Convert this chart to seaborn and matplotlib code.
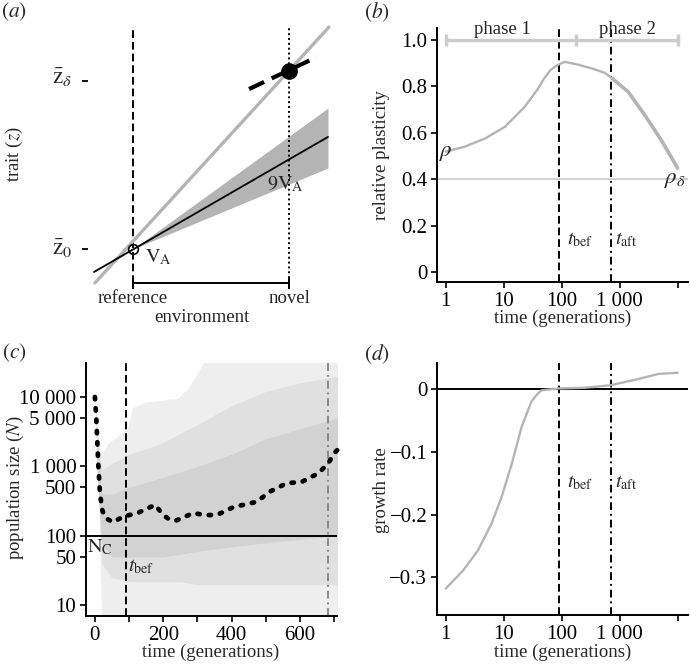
import matplotlib
matplotlib.use("Agg")
import matplotlib.pyplot as plt
import numpy as np
import seaborn as sns

sns.set_theme(style="ticks")
plt.rcParams["font.family"] = ["Liberation Serif", "DejaVu Serif"]
plt.rcParams["mathtext.fontset"] = "stix"

FS = 13.5
TFS = 15
GREY = "#b4b4b4"
LIGHT = "#cccccc"

# ---- (a) reaction norms ---------------------------------------------------
# environment: reference = 0, novel = 1 ; trait: z0 = 0, z_delta = 1
env_ends = [-0.244, 1.256]
grey_norm = [-0.202, 1.321]
black_ends = [-0.25, 1.25]
black_norm = [-0.137, 0.667]
fan_x = [0.0, 1.25]
fan_lo = [0.0, 0.482]
fan_hi = [0.0, 0.839]
opt_x, opt_z = 1.0, 1.06
sel_x = [0.744, 1.179]
sel_z = [0.952, 1.143]

# ---- (b) relative plasticity ----------------------------------------------
b_time = [1, 2.1, 4.8, 10.5, 23, 39, 50, 65, 87, 114, 190, 330, 560, 740,
          1400, 2700, 5200, 10000]
b_rho = [0.519, 0.54, 0.576, 0.626, 0.712, 0.79, 0.835, 0.872, 0.894, 0.906,
         0.894, 0.878, 0.858, 0.835, 0.777, 0.677, 0.569, 0.448]
phase_edges = [1, 180, 10000]
t_bef, t_aft_log, t_aft_lin = 90, 700, 683

# ---- (c) population size ---------------------------------------------------
c_time = [0, 4, 10, 15, 22, 32, 53, 83, 126, 176, 200, 220, 239, 288, 320,
          356, 405, 473, 512, 561, 605, 654, 683, 700, 717]
c_mean = [10000, 5000, 1050, 400, 230, 180, 158, 190, 215, 280, 200, 170,
          168, 214, 200, 200, 260, 310, 435, 575, 600, 800, 1120, 1550, 1900]
env_time = [0, 6, 12, 20, 40, 70, 95, 110, 150, 200, 240, 270, 300, 330, 710]
env_hi = [10000, 5000, 1800, 1500, 2200, 2800, 3500, 7000, 8500, 9000, 9500,
          13000, 22000, 40000, 40000]
env_lo = [10000, 2000, 200, 5, 5, 5, 5, 5, 5, 5, 5, 5, 5, 5, 5]
core_time = [0, 8, 20, 50, 100, 150, 200, 250, 300, 350, 400, 500, 600, 710]
core_lo = [10000, 800, 40, 25, 22, 22, 22, 22, 20, 20, 20, 20, 20, 20]
core_hi = [10000, 2500, 900, 1100, 1500, 1800, 2200, 3000, 4000, 5500, 7500,
           12000, 16000, 20000]
dense_time = [5, 20, 50, 100, 200, 300, 400, 500, 600, 710]
dense_lo = [1000, 80, 50, 50, 50, 60, 70, 80, 90, 100]
dense_hi = [3000, 400, 400, 500, 700, 1000, 1500, 2500, 3500, 5000]

# ---- (d) growth rate -------------------------------------------------------
d_time = [1, 2, 3.6, 6.2, 9.2, 13.8, 20.4, 30, 38, 45, 90, 250, 690, 1800,
          4600, 10000]
d_rate = [-0.318, -0.289, -0.257, -0.214, -0.172, -0.119, -0.060, -0.020,
          -0.008, -0.002, 0.001, 0.002, 0.006, 0.0145, 0.024, 0.026]

W, H = 690, 665
fig = plt.figure(figsize=(W / 100, H / 100), dpi=100)


def px_axes(left, top, right, bottom):
    return fig.add_axes([left / W, 1 - bottom / H, (right - left) / W,
                         (bottom - top) / H])


def px_text(x, y, s, **kw):
    kw.setdefault("fontsize", FS)
    kw.setdefault("ha", "center")
    kw.setdefault("va", "center")
    fig.text(x / W, 1 - y / H, s, **kw)


def style(ax):
    for side in ["top", "right"]:
        ax.spines[side].set_visible(False)
    for side in ["left", "bottom"]:
        ax.spines[side].set_linewidth(1.4)
        ax.spines[side].set_color("black")
    ax.tick_params(direction="out", length=4, width=1.2, labelsize=TFS,
                   colors="black", pad=3)
    ax.minorticks_off()


DASH = (0, (4, 2))
DASHDOT = (0, (4, 2, 1, 2))

# ============================ panel (a) =====================================
ax = px_axes(40, 15, 340, 295)
ax.set_axis_off()
ax.set_xlim(-0.596, 1.327)
ax.set_ylim(-0.274, 1.393)
ax.plot([0, 0], [-0.202, 1.315], color="black", lw=1.4, ls=DASH)
ax.plot([1, 1], [-0.202, 1.315], color="black", lw=1.4, ls=(0, (1, 1.5)))
ax.fill_between(fan_x, fan_lo, fan_hi, color=GREY, lw=0)
sns.lineplot(x=env_ends, y=grey_norm, ax=ax, color=GREY, lw=2.4)
sns.lineplot(x=black_ends, y=black_norm, ax=ax, color="black", lw=1.3)
ax.plot([opt_x], [opt_z], "o", color="black", ms=11)
ax.plot(sel_x, sel_z, color="black", lw=3, ls=(0, (4, 2)))
ax.plot([0], [0], "o", mfc="none", mec="black", ms=7, mew=1.2)
ax.plot([0, 1], [-0.202, -0.202], color="black", lw=1.4)
ax.plot([0, 1], [-0.202, -0.202], "|", color="black", ms=8, mew=1.4)
ax.plot([-0.308, -0.308], [0, 1.0], "_", color="black", ms=5, mew=1.3)
ax.text(-0.39, 1.02, r"$\bar{\mathrm{z}}_{\delta}$", fontsize=FS + 3,
        ha="right", va="center")
ax.text(-0.39, 0.0, r"$\bar{\mathrm{z}}_{0}$", fontsize=FS + 3, ha="right",
        va="center")
ax.text(0.075, -0.05, r"$\mathrm{V}_{\mathrm{A}}$", fontsize=FS + 1,
        va="center")
ax.text(0.86, 0.385, r"$9\mathrm{V}_{\mathrm{A}}$", fontsize=FS + 1,
        va="center")
ax.text(0.0, -0.292, "reference", fontsize=FS, ha="center", va="center")
ax.text(1.006, -0.292, "novel", fontsize=FS, ha="center", va="center")
px_text(202, 318, "environment")
px_text(14, 154, "trait ($z$)", rotation=90)

# ============================ panel (b) =====================================
ax = px_axes(437, 28, 688, 282)
ax.set_xscale("log")
ax.set_xlim(0.708, 15060)
ax.set_ylim(-0.043, 1.052)
ax.axhline(0.4, color=LIGHT, lw=1.3)
ax.axvline(t_bef, color="black", lw=1.4, ls=DASH)
ax.axvline(t_aft_log, color="black", lw=1.4, ls=DASHDOT)
ax.plot([phase_edges[0], phase_edges[-1]], [1, 1], color=LIGHT, lw=2.5)
ax.plot(phase_edges, [1, 1, 1], "|", color=LIGHT, ms=9, mew=2.5)
sns.lineplot(x=b_time, y=b_rho, ax=ax, color=GREY, lw=1.7)
# the late part of the curve is noisier, drawn thicker
sns.lineplot(x=b_time[13:], y=b_rho[13:], ax=ax, color=GREY, lw=2.6)
ax.text(9.7, 1.047, "phase 1", fontsize=FS, ha="center", va="center")
ax.text(1380, 1.047, "phase 2", fontsize=FS, ha="center", va="center")
ax.text(1, 0.515, r"$\rho$", fontsize=FS + 3, ha="center", va="center")
ax.text(9000, 0.40, r"$\rho_{\delta}$", fontsize=FS + 3, ha="center",
        va="center")
ax.text(123, 0.138, r"$t_{\mathrm{bef}}$", fontsize=FS + 1, va="center")
ax.text(830, 0.138, r"$t_{\mathrm{aft}}$", fontsize=FS + 1, va="center")
ax.set_xticks([1, 10, 100, 1000, 10000])
ax.set_xticklabels(["1", "10", "100", "1 000", ""])
ax.set_yticks([0, 0.2, 0.4, 0.6, 0.8, 1.0])
ax.set_yticklabels(["0", "0.2", "0.4", "0.6", "0.8", "1.0"])
style(ax)
px_text(381, 155, "relative plasticity", rotation=90)
px_text(563, 318, "time (generations)")

# ============================ panel (c) =====================================
ax = px_axes(86, 363, 337, 616)
ax.set_yscale("log")
ax.set_xlim(-26, 708)
ax.set_ylim(7.06, 30800)
ax.fill_between(env_time, env_lo, env_hi, color="#eeeeee", lw=0)
ax.fill_between(core_time, core_lo, core_hi, color="#e0e0e0", lw=0)
ax.fill_between(dense_time, dense_lo, dense_hi, color="#d2d2d2", lw=0)
ax.axhline(100, color="black", lw=1.4)
ax.axvline(t_bef, color="black", lw=1.4, ls=DASH)
ax.axvline(t_aft_lin, color="#888888", lw=1.4, ls=DASHDOT)
sns.lineplot(x=c_time, y=c_mean, ax=ax, color="black", lw=3.4,
             ls=(0, (0.5, 1.9)), dash_capstyle="round", clip_on=False)
ax.text(-23, 68, r"$\mathrm{N}_{\mathrm{C}}$", fontsize=FS + 1, va="center")
ax.text(98, 36, r"$t_{\mathrm{bef}}$", fontsize=FS + 1, va="center")
ax.set_xticks(range(0, 800, 100))
ax.set_xticklabels(["0", "", "200", "", "400", "", "600", ""])
ax.set_yticks([10, 50, 100, 500, 1000, 5000, 10000])
ax.set_yticklabels(["10", "50", "100", "500", "1 000", "5 000", "10 000"])
style(ax)
px_text(15, 488, "population size ($N$)", rotation=90)
px_text(211, 652, "time (generations)")

# ============================ panel (d) =====================================
ax = px_axes(437, 363, 688, 615)
ax.set_xscale("log")
ax.set_xlim(0.708, 15060)
ax.set_ylim(-0.360, 0.0415)
ax.axhline(0, color="black", lw=1.4)
ax.axvline(t_bef, color="black", lw=1.4, ls=DASH)
ax.axvline(t_aft_log, color="black", lw=1.4, ls=DASHDOT)
sns.lineplot(x=d_time, y=d_rate, ax=ax, color=GREY, lw=1.7)
ax.text(123, -0.150, r"$t_{\mathrm{bef}}$", fontsize=FS + 1, va="center")
ax.text(830, -0.150, r"$t_{\mathrm{aft}}$", fontsize=FS + 1, va="center")
ax.set_xticks([1, 10, 100, 1000, 10000])
ax.set_xticklabels(["1", "10", "100", "1 000", ""])
ax.set_yticks([0, -0.1, -0.2, -0.3])
ax.set_yticklabels(["0", "\u22120.1", "\u22120.2", "\u22120.3"])
style(ax)
px_text(381, 490, "growth rate", rotation=90)
px_text(563, 652, "time (generations)")

# panel letters
px_text(14, 12, "$(a)$", fontsize=FS + 2)
px_text(377, 12, "$(b)$", fontsize=FS + 2)
px_text(14, 353, "$(c)$", fontsize=FS + 2)
px_text(377, 354, "$(d)$", fontsize=FS + 2)

fig.savefig("out.png", dpi=100)
